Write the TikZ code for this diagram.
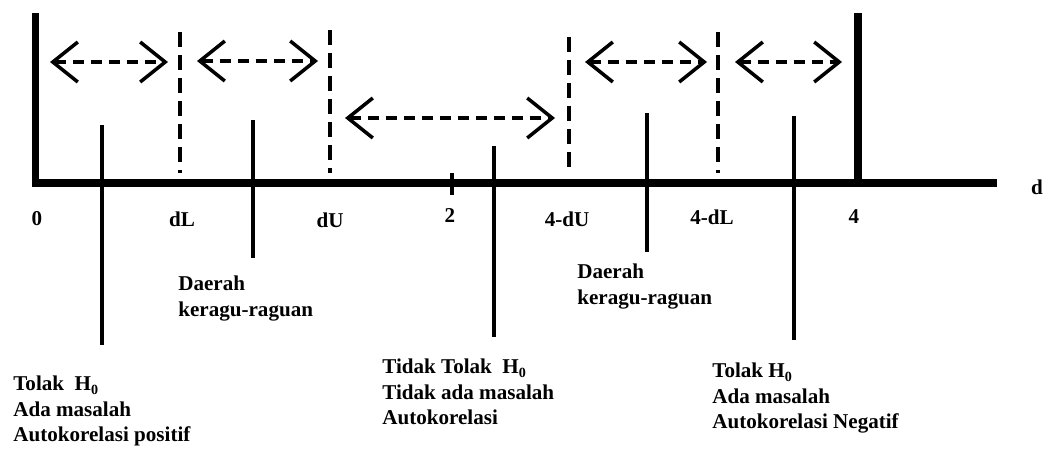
\documentclass[tikz,border=0pt]{standalone}
\usepackage{fontspec}
\setmainfont{Liberation Serif}
\usetikzlibrary{arrows.meta}

\begin{document}
\begin{tikzpicture}[line join=miter,x=0.02cm,y=0.02cm,>={Straight Barb[length=0.5cm,width=0.8cm,line width=2pt]},
		rentang/.style={<->,line width=2pt,dash pattern=on 0.22cm off 0.14cm},
		batas/.style={line width=2.3pt,dash pattern=on 0.3cm off 0.16cm},
		penunjuk/.style={line width=2.3pt},
		tebal/.style={line width=4.4pt},
		lbl/.style={font=\fontsize{12}{14.4}\selectfont\bfseries,inner sep=0pt},
		ket/.style={lbl,align=left,anchor=north west}]%uji Durbin-Watson
			\useasboundingbox (0,0) rectangle (1051,451);
			% sumbu d
			\coordinate (awal) at (32,268);
			\coordinate (ujung) at (997,268);
			\coordinate (nolatas) at (35.5,438);
			\coordinate (nol) at (35.5,268);
			\coordinate (empatatas) at (858,438);
			\coordinate (empat) at (858,268);
			\draw [tebal] (awal)-- (ujung);
			\draw [tebal] (nol)-- (nolatas);
			\draw [tebal] (empat)-- (empatatas);
			\draw [line width=2.3pt] (452,278)-- (452,256);
			% batas dL, dU, 4-dU, 4-dL
			\draw [batas] (180,419)-- (180,278);
			\draw [batas] (330,421)-- (330,278);
			\draw [batas] (569,414)-- (569,278);
			\draw [batas] (718,419)-- (718,278);
			% rentang daerah
			\draw [rentang] (50,389)-- (168,389);
			\draw [rentang] (197,390)-- (318,390);
			\draw [rentang] (345,333)-- (555,333);
			\draw [rentang] (585,389)-- (707,389);
			\draw [rentang] (735,389)-- (842,389);
			% garis penunjuk
			\draw [penunjuk] (102,326)-- (102,106);
			\draw [penunjuk] (253,331)-- (253,193);
			\draw [penunjuk] (494,305)-- (494,114);
			\draw [penunjuk] (647,338)-- (647,199);
			\draw [penunjuk] (794,335)-- (794,111);
			% label sumbu
			\node[lbl] (l0) at (37,232) {0};
			\node[lbl] (ldL) at (182,232) {dL};
			\node[lbl] (ldU) at (330,231) {dU};
			\node[lbl] (l2) at (450,235) {2};
			\node[lbl] (l4dU) at (567,232) {4-dU};
			\node[lbl] (l4dL) at (712,234) {4-dL};
			\node[lbl] (l4) at (854,234) {4};
			\node[lbl] (ld) at (1037,264) {d};
			% keterangan
			\node[ket] (ragu1) at (178,175) {Daerah\\keragu-raguan};
			\node[ket] (ragu2) at (577,187) {Daerah\\keragu-raguan};
			\node[ket] (positif) at (13,75) {Tolak\ \ H\textsubscript{0}\\Ada masalah\\Autokorelasi positif};
			\node[ket] (tidak) at (382,92) {Tidak Tolak\ \ H\textsubscript{0}\\Tidak ada masalah\\Autokorelasi};
			\node[ket] (negatif) at (712,88) {Tolak H\textsubscript{0}\\Ada masalah\\Autokorelasi Negatif};
		\end{tikzpicture}
\end{document}
